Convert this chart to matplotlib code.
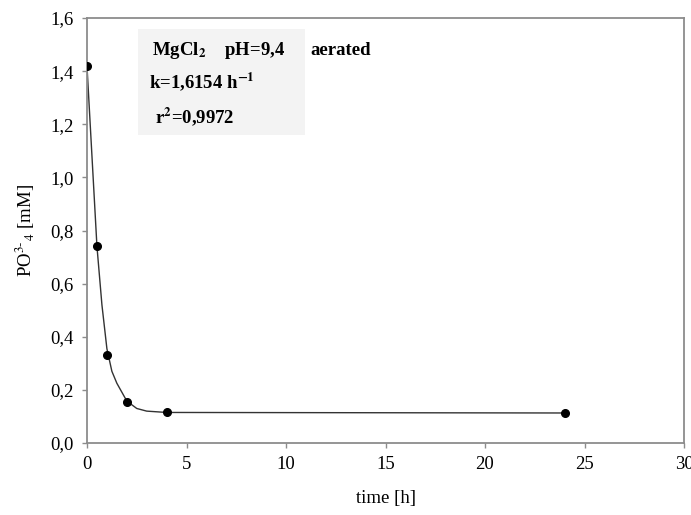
import matplotlib
matplotlib.use("Agg")
import matplotlib.pyplot as plt
from matplotlib.patches import Rectangle
from matplotlib.ticker import FuncFormatter

plt.rcParams['font.family'] = ['Liberation Serif', 'DejaVu Serif']
plt.rcParams['mathtext.fontset'] = 'stix'

# measured points
time_h = [0, 0.5, 1, 2, 4, 24]
po4_mM = [1.418, 0.74, 0.33, 0.155, 0.115, 0.113]

# fitted curve
fit_t = [0, 0.5, 0.75, 1.0, 1.25, 1.5, 2.0, 2.5, 3.0, 4.0, 24]
fit_y = [1.418, 0.74, 0.52, 0.355, 0.27, 0.225, 0.158, 0.13, 0.12, 0.115, 0.113]

xticks = [0, 5, 10, 15, 20, 25, 30]
yticks = [0.0, 0.2, 0.4, 0.6, 0.8, 1.0, 1.2, 1.4, 1.6]

fig = plt.figure(figsize=(6.91, 5.15), dpi=100)
ax = fig.add_axes([87/691, 1-443/515, 597/691, 425/515])

ax.plot(fit_t, fit_y, color="#333333", lw=1.0, zorder=2)
ax.plot(time_h, po4_mM, "o", color="black", ms=5.5, zorder=3)

ax.set_xlim(0, 30)
ax.set_ylim(0, 1.6)
ax.set_xticks(xticks)
ax.set_yticks(yticks)
ax.yaxis.set_major_formatter(FuncFormatter(lambda v, p: f"{v:.1f}".replace(".", ",")))

for s in ax.spines.values():
    s.set_color("#8c8c8c")
    s.set_linewidth(1.3)
ax.tick_params(direction="out", length=3.5, width=1, color="#8c8c8c",
               labelsize=13.5, labelcolor="black", pad=6)

ax.set_xlabel("time [h]", fontsize=13.5, labelpad=12)
ax.set_ylabel(r"PO$^{3\text{-}}$$_{4}$ [mM]", fontsize=13.5, labelpad=10)

# annotation box
ax.add_patch(Rectangle((0.0854, 0.725), 0.28, 0.249, transform=ax.transAxes,
                       facecolor="#f3f3f3", edgecolor="none", zorder=1))
kw = dict(transform=ax.transAxes, fontsize=13.5, fontweight="bold", zorder=4)
ax.text(0.109, 0.913, r"MgCl$_{\mathbf{2}}$    pH=9,4", **kw)
ax.text(0.3735, 0.913, "aerated", **kw)
ax.text(0.104, 0.835, r"k=1,6154 h$^{\mathbf{-1}}$", **kw)
ax.text(0.114, 0.753, r"r$^{\mathbf{2}}$=0,9972", **kw)

fig.savefig("out.png", dpi=100)
